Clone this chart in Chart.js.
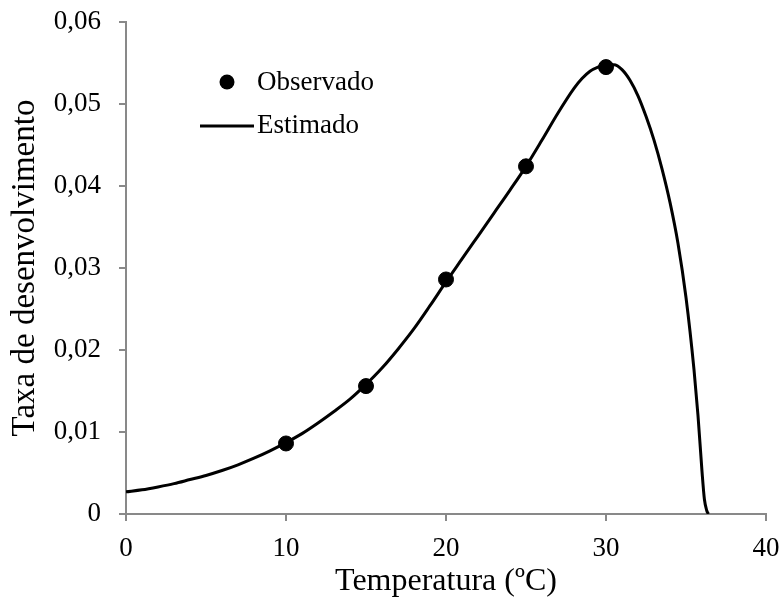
<!DOCTYPE html>
<html lang="pt">
<head>
  <meta charset="UTF-8" />
  <title>Taxa de desenvolvimento</title>
  <script src="https://cdn.jsdelivr.net/npm/chart.js"></script>
  <style>
    body { margin: 0; background: #fff; }
    #wrap { width: 783px; height: 601px; }
  </style>
</head>
<body>
  <div id="wrap"><canvas id="taxaChart" width="783" height="601"></canvas></div>

  <script>
    // pontos observados
    const tempObs = [10, 15, 20, 25, 30];
    const taxaObs = [0.0086, 0.0156, 0.0286, 0.0424, 0.0545];

    // curva estimada
    const tempEst = [0, 1, 2, 3, 4, 5, 6, 7, 8, 9, 10, 11, 12, 13, 14, 15, 16, 17, 18, 19, 20,
      21, 22, 23, 24, 25, 26, 27, 28, 28.5, 29, 29.5, 30, 30.5, 31, 31.5, 32, 32.5, 33, 33.5, 34, 34.5, 35,
      35.5, 35.75, 36, 36.15, 36.3, 36.4];
    const taxaEst = [0.0027, 0.00295, 0.0033, 0.0037, 0.0042, 0.0047, 0.0053, 0.0060, 0.0068, 0.0077, 0.0087,
      0.0098, 0.0111, 0.0125, 0.0140, 0.0158, 0.0178, 0.0201, 0.0226, 0.0254, 0.0283,
      0.0311, 0.0339, 0.0367, 0.0395, 0.0424, 0.0456, 0.0489, 0.0519, 0.0531, 0.0540, 0.0545, 0.0548,
      0.0548, 0.0542, 0.0529, 0.0510, 0.0485, 0.0456, 0.0421, 0.0380, 0.0330, 0.0264,
      0.0176, 0.0120, 0.0052, 0.0018, 0.0004, 0];

    const xTicks = [0, 10, 20, 30, 40];
    const yTicks = [0, 0.01, 0.02, 0.03, 0.04, 0.05, 0.06];

    const serif = 'Liberation Serif, Times New Roman, serif';
    const cinza = '#898989';

    const toPts = (xs, ys) => xs.map((x, i) => ({ x: x, y: ys[i] }));

    // legenda desenhada dentro da área do gráfico
    const legendaInterna = {
      id: 'legendaInterna',
      afterDraw(chart) {
        const c = chart.ctx;
        c.save();
        c.fillStyle = '#000';
        c.strokeStyle = '#000';
        c.beginPath();
        c.arc(227, 82, 7.5, 0, Math.PI * 2);
        c.fill();
        c.lineWidth = 3;
        c.beginPath();
        c.moveTo(200, 126);
        c.lineTo(254, 126);
        c.stroke();
        c.font = '27px ' + serif;
        c.textBaseline = 'middle';
        c.fillText('Observado', 257, 83);
        c.fillText('Estimado', 257, 126);
        c.restore();
      }
    };

    const chart = new Chart(document.getElementById('taxaChart'), {
      type: 'scatter',
      data: {
        datasets: [
          {
            label: 'Estimado',
            data: toPts(tempEst, taxaEst),
            showLine: true,
            borderColor: '#000',
            borderWidth: 3,
            pointRadius: 0,
            cubicInterpolationMode: 'monotone',
            order: 2
          },
          {
            label: 'Observado',
            data: toPts(tempObs, taxaObs),
            backgroundColor: '#000',
            borderColor: '#000',
            pointRadius: 7.5,
            order: 1
          }
        ]
      },
      options: {
        responsive: false,
        animation: false,
        layout: { padding: { left: 0, right: 17, top: 22, bottom: 0 } },
        plugins: { legend: { display: false }, tooltip: { enabled: false } },
        scales: {
          x: {
            type: 'linear', min: 0, max: 40,
            afterBuildTicks: s => { s.ticks = xTicks.map(v => ({ value: v })); },
            afterFit: s => { s.height = 87; s.paddingLeft = 0; s.paddingRight = 0; },
            ticks: { color: '#000', font: { family: serif, size: 27 }, padding: 12 },
            grid: { drawOnChartArea: false, tickLength: 7, color: cinza, lineWidth: 2 },
            border: { color: cinza, width: 2 },
            title: { display: true, text: 'Temperatura (ºC)', color: '#000', font: { family: serif, size: 32 }, padding: { top: 0, bottom: 0 } }
          },
          y: {
            min: 0, max: 0.06,
            afterBuildTicks: s => { s.ticks = yTicks.map(v => ({ value: v })); },
            afterFit: s => { s.width = 126; s.paddingTop = 0; s.paddingBottom = 0; },
            ticks: {
              color: '#000', font: { family: serif, size: 27 }, padding: 18,
              callback: v => v === 0 ? '0' : v.toFixed(2).replace('.', ',')
            },
            grid: { drawOnChartArea: false, tickLength: 7, color: cinza, lineWidth: 2 },
            border: { color: cinza, width: 2 },
            title: { display: true, text: 'Taxa de desenvolvimento', color: '#000', font: { family: serif, size: 33 }, padding: { top: 6, bottom: 0 } }
          }
        }
      },
      plugins: [legendaInterna]
    });
  </script>
</body>
</html>
